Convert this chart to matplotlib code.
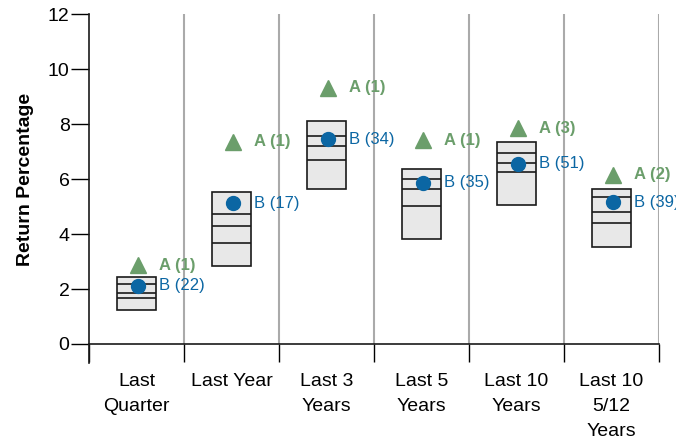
import numpy as np
import matplotlib
matplotlib.use("Agg")
import matplotlib.pyplot as plt

plt.rcParams['font.family'] = ['Liberation Sans', 'DejaVu Sans']

categories = ["Last\nQuarter", "Last Year", "Last 3\nYears", "Last 5\nYears",
              "Last 10\nYears", "Last 10\n5/12\nYears"]
# box percentiles (top to bottom)
p95 = [2.42, 5.54, 8.11, 6.35, 7.33, 5.62]
p75 = [2.18, 4.73, 7.56, 6.01, 6.93, 5.33]
p50 = [1.84, 4.30, 7.20, 5.62, 6.57, 4.81]
p25 = [1.66, 3.66, 6.69, 5.02, 6.25, 4.41]
p5 = [1.24, 2.84, 5.62, 3.82, 5.05, 3.52]
a_vals = [2.87, 7.36, 9.33, 7.42, 7.84, 6.15]
b_vals = [2.11, 5.12, 7.45, 5.87, 6.55, 5.15]
a_rank = [1, 1, 1, 1, 3, 2]
b_rank = [22, 17, 34, 35, 51, 39]

green = "#6b9e6b"
blue = "#0b66a3"

fig = plt.figure(figsize=(6.76, 4.41), dpi=100)
ax = fig.add_axes([0.1317, 0.22, 0.8433, 0.748])

n = len(categories)
centers = np.arange(n) + 0.5
w = 0.41

# separators
ax.vlines(np.arange(1, n + 1), 0, 12, color="#aaaaaa", lw=1.5, zorder=1)

ax.bar(centers, np.array(p95) - np.array(p5), bottom=p5, width=w,
       color="#e8e8e8", edgecolor="#1a1a1a", linewidth=1.2, zorder=2)
for q in (p75, p50, p25):
    ax.hlines(q, centers - w / 2, centers + w / 2, color="#1a1a1a", lw=1.2, zorder=3)

mx = centers + 0.02
ax.plot(mx, a_vals, ls="none", marker="^", ms=11, color=green, zorder=4)
ax.plot(mx, b_vals, ls="none", marker="o", ms=10, color=blue, zorder=4)

for x, a, r in zip(mx, a_vals, a_rank):
    ax.annotate(f"A ({r})", (x, a), xytext=(15, 0), textcoords="offset points",
                va="center", ha="left", color=green, fontsize=12, fontweight="bold",
                annotation_clip=False)
for x, b, r in zip(mx, b_vals, b_rank):
    ax.annotate(f"B ({r})", (x, b), xytext=(15, 0), textcoords="offset points",
                va="center", ha="left", color=blue, fontsize=12,
                annotation_clip=False)

ax.set_xlim(0, n)
ax.set_ylim(0, 12)
ax.set_yticks(range(0, 13, 2))
ax.tick_params(axis="y", length=13, width=1, labelsize=14, pad=1)

ax.set_xticks(np.arange(0, n + 1))
ax.set_xticklabels([])
ax.tick_params(axis="x", which="major", length=13, width=1)
ax.set_xticks(centers, minor=True)
ax.set_xticklabels(categories, minor=True, fontsize=14, linespacing=1.6)
ax.tick_params(axis="x", which="minor", length=0, pad=21)

for s in ("top", "right"):
    ax.spines[s].set_visible(False)
ax.spines["left"].set_bounds(-0.7, 12)
ax.spines["left"].set_color("#1a1a1a")
ax.spines["bottom"].set_color("#1a1a1a")
ax.spines["left"].set_linewidth(1.2)
ax.spines["bottom"].set_linewidth(1.2)

ax.set_ylabel("Return Percentage", fontsize=14, fontweight="bold", labelpad=10)

fig.savefig("out.png", dpi=100)
